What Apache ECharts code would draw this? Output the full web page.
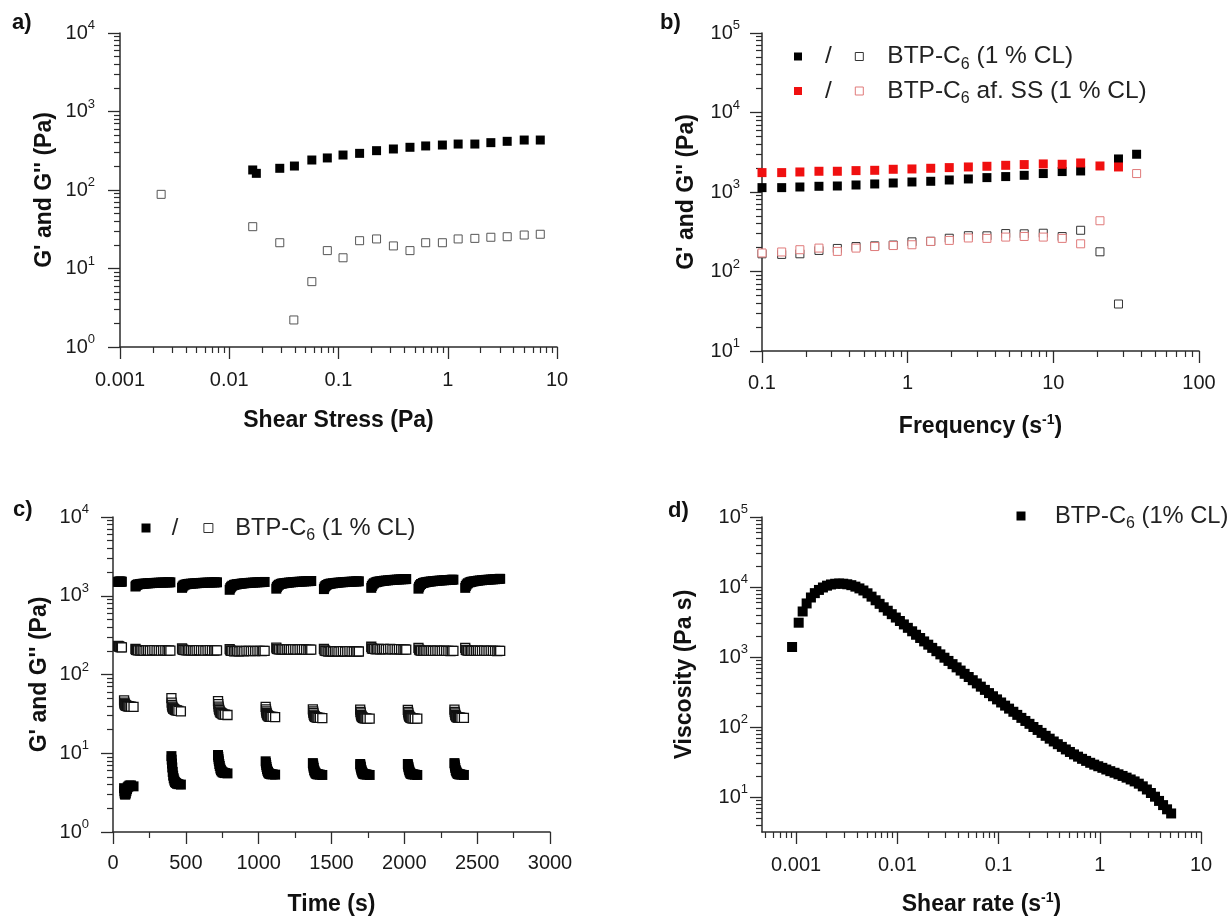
<!DOCTYPE html>
<html>
<head>
<meta charset="utf-8">
<script src="https://cdn.jsdelivr.net/npm/echarts@6/dist/echarts.min.js"></script>
<style>html,body{margin:0;padding:0;background:#fff}#c{width:1230px;height:921px}</style>
</head>
<body>
<div id="c"></div>
<script>
// ---------------- Panel a : amplitude sweep ----------------
const aStress = [0.0164, 0.0177, 0.029, 0.0395, 0.057, 0.079, 0.11, 0.156, 0.223, 0.318, 0.451, 0.628, 0.893, 1.245, 1.77, 2.48, 3.50, 5.01, 7.03];
const aGp = [180, 163, 189, 202, 241, 256, 279, 293, 317, 333, 350, 364, 374, 385, 385, 401, 417, 433, 433];
const aStressGpp = [0.00238, 0.0164, 0.029, 0.039, 0.057, 0.079, 0.11, 0.156, 0.223, 0.318, 0.451, 0.628, 0.893, 1.245, 1.77, 2.48, 3.50, 5.01, 7.03];
const aGpp = [88, 34.1, 21.3, 2.21, 6.8, 16.9, 13.7, 22.6, 23.8, 19.4, 16.9, 21.3, 21.3, 23.8, 24.2, 25.0, 25.4, 26.7, 27.3];
const aXTicks = [0.001, 0.01, 0.1, 1, 10];
const aXLabels = ['0.001', '0.01', '0.1', '1', '10'];
const aYTicks = [1, 10, 100, 1000, 10000];
const aYExp = ['0', '1', '2', '3', '4'];

// ---------------- Panel b : frequency sweep ----------------
const bFreq = [0.1, 0.1365, 0.182, 0.246, 0.329, 0.442, 0.594, 0.796, 1.07, 1.44, 1.93, 2.61, 3.50, 4.71, 6.31, 8.53, 11.5, 15.4, 20.9, 28.0, 37.3];
const bGpBlack = [1135, 1135, 1156, 1180, 1190, 1225, 1262, 1298, 1337, 1364, 1416, 1459, 1517, 1563, 1622, 1706, 1807, 1839, null, 2604, 2985];
const bGppBlack = [167, 164, 167, 184, 195, 206, 210, 215, 236, 240, 262, 282, 281, 300, 298, 303, 275, 330, 177, 39, null];
const bGpRed = [1754, 1754, 1786, 1823, 1823, 1858, 1875, 1931, 1949, 1988, 2027, 2065, 2107, 2167, 2213, 2255, 2233, 2318, 2125, 2065, null];
const bGppRed = [171, 176, 188, 197, 179, 197, 206, 212, 217, 239, 246, 264, 261, 271, 276, 271, 261, 223, 435, null, 1706];
const bXTicks = [0.1, 1, 10, 100];
const bXLabels = ['0.1', '1', '10', '100'];
const bYTicks = [10, 100, 1000, 10000, 100000];
const bYExp = ['1', '2', '3', '4', '5'];

// ---------------- Panel c : time sweep (recovery steps) ----------------
const cTime = [
  35, 40, 45, 50, 55, 61,
  76, 78, 80, 82, 85, 88, 92, 96, 101, 107, 114, 124, 141,
  154, 158, 164, 172, 184, 194, 204, 216, 229, 241, 254, 269, 284, 299, 314, 329, 344, 359, 374, 384, 394,
  401, 403, 405, 407, 410, 413, 417, 421, 426, 432, 439, 449, 466,
  474, 478, 484, 492, 504, 514, 524, 536, 549, 561, 574, 589, 604, 619, 634, 649, 664, 679, 694, 704, 714,
  721, 723, 725, 727, 730, 733, 737, 741, 746, 752, 759, 769, 786,
  801, 805, 811, 819, 831, 841, 851, 863, 876, 888, 901, 916, 931, 946, 961, 976, 991, 1006, 1021, 1031, 1041,
  1048, 1050, 1052, 1054, 1057, 1060, 1064, 1068, 1073, 1079, 1086, 1096, 1113,
  1121, 1125, 1131, 1139, 1151, 1161, 1171, 1183, 1196, 1208, 1221, 1236, 1251, 1266, 1281, 1296, 1311, 1326, 1341, 1351, 1361,
  1372, 1374, 1376, 1378, 1381, 1384, 1388, 1392, 1397, 1403, 1410, 1420, 1437,
  1448, 1452, 1458, 1466, 1478, 1488, 1498, 1510, 1523, 1535, 1548, 1563, 1578, 1593, 1608, 1623, 1638, 1653, 1668, 1678, 1688,
  1697, 1699, 1701, 1703, 1706, 1709, 1713, 1717, 1722, 1728, 1735, 1745, 1762,
  1773, 1777, 1783, 1791, 1803, 1813, 1823, 1835, 1848, 1860, 1873, 1888, 1903, 1918, 1933, 1948, 1963, 1978, 1993, 2003, 2013,
  2024, 2026, 2028, 2030, 2033, 2036, 2040, 2044, 2049, 2055, 2062, 2072, 2089,
  2097, 2101, 2107, 2115, 2127, 2137, 2147, 2159, 2172, 2184, 2197, 2212, 2227, 2242, 2257, 2272, 2287, 2302, 2317, 2327, 2337,
  2344, 2346, 2348, 2350, 2353, 2356, 2360, 2364, 2369, 2375, 2382, 2392, 2409,
  2418, 2422, 2428, 2436, 2448, 2458, 2468, 2480, 2493, 2505, 2518, 2533, 2548, 2563, 2578, 2593, 2608, 2623, 2638, 2648, 2658
];
const cGp = [
  1500, 1508, 1512, 1512, 1510, 1508,
  3.6, 3.3, 3.1, 3.0, 3.0, 3.1, 3.3, 3.5, 3.7, 3.8, 3.9, 3.9, 3.8,
  1310, 1345, 1375, 1395, 1405, 1413, 1420, 1426, 1432, 1438, 1443, 1449, 1455, 1460, 1465, 1469, 1472, 1475, 1478, 1480, 1482,
  9.2, 8.3, 7.4, 6.6, 5.8, 5.2, 4.8, 4.5, 4.3, 4.2, 4.1, 4.05, 4.0,
  1260, 1310, 1350, 1380, 1400, 1410, 1418, 1424, 1430, 1436, 1442, 1449, 1455, 1460, 1465, 1469, 1472, 1475, 1478, 1480, 1482,
  9.5, 9.0, 8.4, 7.9, 7.3, 6.9, 6.4, 6.1, 5.9, 5.75, 5.65, 5.6, 5.55,
  1190, 1250, 1300, 1340, 1375, 1389, 1400, 1410, 1420, 1430, 1440, 1448, 1455, 1462, 1468, 1474, 1480, 1485, 1490, 1494, 1497,
  7.9, 7.5, 7.1, 6.7, 6.3, 6.0, 5.8, 5.6, 5.5, 5.45, 5.4, 5.4, 5.35,
  1230, 1290, 1340, 1380, 1415, 1429, 1440, 1450, 1460, 1469, 1478, 1487, 1495, 1502, 1508, 1514, 1520, 1526, 1532, 1536, 1540,
  7.5, 7.2, 6.8, 6.5, 6.1, 5.9, 5.7, 5.55, 5.45, 5.4, 5.4, 5.35, 5.3,
  1215, 1280, 1330, 1370, 1405, 1419, 1430, 1440, 1450, 1459, 1468, 1477, 1485, 1492, 1498, 1504, 1510, 1515, 1520, 1523, 1526,
  7.3, 7.0, 6.7, 6.4, 6.1, 5.85, 5.65, 5.5, 5.45, 5.4, 5.4, 5.35, 5.3,
  1260, 1330, 1390, 1440, 1480, 1499, 1515, 1528, 1540, 1550, 1560, 1570, 1580, 1588, 1595, 1603, 1610, 1616, 1622, 1626, 1630,
  7.3, 7.0, 6.7, 6.4, 6.1, 5.85, 5.65, 5.5, 5.45, 5.4, 5.4, 5.35, 5.3,
  1230, 1300, 1360, 1410, 1450, 1469, 1485, 1498, 1510, 1520, 1530, 1540, 1550, 1558, 1565, 1573, 1580, 1586, 1592, 1596, 1600,
  7.5, 7.2, 6.8, 6.5, 6.1, 5.9, 5.7, 5.55, 5.45, 5.4, 5.4, 5.35, 5.3,
  1260, 1330, 1390, 1440, 1480, 1499, 1515, 1528, 1540, 1553, 1565, 1575, 1585, 1593, 1600, 1608, 1615, 1623, 1630, 1635, 1640
];
const cGpp = [
  230, 227, 225, 223, 222, 221,
  47, 44, 42.5, 41.5, 41, 40.5, 40, 40, 39.5, 39.5, 39, 39, 38.7,
  212, 206, 204, 203, 201, 203, 202, 200, 202, 203, 201, 203, 204, 202, 203, 201, 203, 202, 200, 202, 201,
  50, 44, 41, 39, 38, 37, 36.5, 36, 35.5, 35, 35, 34.5, 34,
  214, 207, 205, 204, 202, 203, 204, 202, 203, 201, 202, 204, 202, 203, 201, 203, 204, 202, 201, 202, 202,
  46, 42, 39, 37, 35.5, 34, 33, 32.5, 32, 31.5, 31, 31, 30.6,
  210, 203, 200, 199, 197, 198, 199, 197, 198, 199, 197, 199, 200, 198, 199, 198, 200, 199, 198, 199, 199,
  38.7, 36, 34, 32.5, 31.5, 30.5, 30, 29.5, 29.2, 29, 29, 28.9, 28.8,
  220, 212, 210, 209, 207, 208, 209, 207, 208, 209, 207, 208, 209, 207, 208, 209, 208, 207, 206, 207, 207,
  36, 34, 32.5, 31, 30, 29.5, 29, 28.7, 28.5, 28.3, 28.2, 28.1, 28.0,
  212, 202, 199, 198, 196, 197, 198, 196, 197, 198, 196, 197, 198, 196, 197, 198, 197, 196, 195, 196, 196,
  35.8, 33.5, 32, 30.5, 29.7, 29, 28.5, 28.2, 28, 27.8, 27.7, 27.6, 27.5,
  225, 215, 212, 211, 209, 210, 211, 209, 210, 211, 209, 210, 211, 209, 210, 209, 210, 208, 207, 208, 207,
  35.5, 33.5, 32, 30.5, 29.7, 29, 28.5, 28.2, 28, 27.8, 27.7, 27.6, 27.5,
  218, 207, 203, 201, 199, 200, 201, 199, 200, 201, 199, 200, 201, 199, 200, 201, 200, 199, 198, 199, 199,
  35.8, 33.5, 32, 30.7, 29.8, 29.2, 28.8, 28.5, 28.4, 28.3, 28.3, 28.2, 28.2,
  218, 206, 203, 201, 199, 200, 201, 199, 200, 201, 199, 200, 201, 199, 200, 201, 200, 199, 198, 199, 199
];
const cXTicks = [0, 500, 1000, 1500, 2000, 2500, 3000];
const cXLabels = ['0', '500', '1000', '1500', '2000', '2500', '3000'];
const cXMinor = [250, 750, 1250, 1750, 2250, 2750];
const cYTicks = [1, 10, 100, 1000, 10000];
const cYExp = ['0', '1', '2', '3', '4'];

// ---------------- Panel d : flow curve ----------------
const dRate = [
  0.000912, 0.00106, 0.00116, 0.00127, 0.00140, 0.00153, 0.00168, 0.00184, 0.00202, 0.00221,
  0.00243, 0.00266, 0.00292, 0.00320, 0.00351, 0.00385, 0.00422, 0.00462, 0.00507, 0.00556,
  0.00610, 0.00668, 0.00733, 0.00804, 0.00881, 0.00966, 0.0106, 0.0116, 0.0127, 0.0140,
  0.0153, 0.0168, 0.0184, 0.0202, 0.0221, 0.0243, 0.0266, 0.0292, 0.0320, 0.0351,
  0.0385, 0.0422, 0.0462, 0.0507, 0.0556, 0.0610, 0.0668, 0.0733, 0.0804, 0.0881,
  0.0966, 0.106, 0.116, 0.127, 0.140, 0.153, 0.168, 0.184, 0.202, 0.221,
  0.243, 0.266, 0.292, 0.320, 0.351, 0.385, 0.422, 0.462, 0.507, 0.556,
  0.610, 0.668, 0.733, 0.804, 0.881, 0.966, 1.06, 1.16, 1.27, 1.40,
  1.53, 1.68, 1.84, 2.02, 2.21, 2.43, 2.66, 2.92, 3.20, 3.51,
  3.85, 4.22, 4.62, 5.07
];
const dVisc = [
  1390, 3090, 4470, 5820, 7080, 8170, 9080, 9840, 10450, 10870,
  11120, 11220, 11140, 10940, 10620, 10120, 9550, 8910, 8130, 7280,
  6460, 5750, 5130, 4580, 4090, 3660, 3270, 2920, 2610, 2330,
  2080, 1870, 1670, 1500, 1350, 1210, 1090, 977, 879, 791,
  711, 640, 575, 518, 466, 419, 377, 339, 305, 275,
  248, 224, 202, 183, 165, 149, 135, 122, 111, 100,
  90.8, 82.4, 74.8, 68.1, 62.1, 56.8, 52.0, 47.8, 44.0, 40.6,
  37.7, 35.1, 32.8, 30.8, 29.0, 27.5, 26.1, 24.7, 23.4, 22.2,
  21.1, 20.0, 18.9, 17.8, 16.7, 15.5, 14.2, 12.8, 11.4, 10.1,
  8.79, 7.66, 6.67, 5.82
];
const dXTicks = [0.001, 0.01, 0.1, 1, 10];
const dXLabels = ['0.001', '0.01', '0.1', '1', '10'];
const dYTicks = [10, 100, 1000, 10000, 100000];
const dYExp = ['1', '2', '3', '4', '5'];

// ---------------- styling / helpers ----------------
const FONT = '"Liberation Sans", Arial, Helvetica, sans-serif';
const TXT = '#1a1a1a';
const AXC = '#2b2b2b';

function pairs(xs, ys) {
  const out = [];
  xs.forEach((x, i) => { if (ys[i] != null) out.push([x, ys[i]]); });
  return out;
}
function minorLog(min, max) {
  const out = [];
  for (let e = Math.floor(Math.log10(min)) - 1; e <= Math.ceil(Math.log10(max)); e++) {
    for (let m = 2; m <= 9; m++) {
      const v = +(m * Math.pow(10, e)).toPrecision(6);
      if (v >= min * 0.9999 && v <= max * 1.0001) out.push(v);
    }
  }
  return out;
}
const labelRich = {
  b: {fontSize: 20, fontFamily: FONT, color: TXT, lineHeight: 28},
  s: {fontSize: 13, fontFamily: FONT, color: TXT, lineHeight: 13, verticalAlign: 'top'}
};
const nameRich = {
  t: {fontSize: 23, fontWeight: 'bold', fontFamily: FONT, color: '#111', lineHeight: 28},
  s: {fontSize: 14, fontWeight: 'bold', fontFamily: FONT, color: '#111', lineHeight: 14, verticalAlign: 'top'}
};

const xAxes = [], yAxes = [];
function makeAxes(dim, g, o) {
  const list = dim === 'x' ? xAxes : yAxes;
  const pos = dim === 'x' ? 'bottom' : 'left';
  const fmt = function (v) {
    const i = o.ticks.findIndex(t => Math.abs(t - v) <= Math.abs(t) * 1e-6 + 1e-9);
    if (i < 0) return '';
    return o.sup ? '{b|10}{s|' + o.labels[i] + '}' : o.labels[i];
  };
  const idx = list.length;
  list.push({
    type: o.type, gridIndex: g, position: pos, min: o.min, max: o.max,
    axisLine: {show: true, onZero: false, lineStyle: {color: AXC, width: 1.5}},
    axisTick: {show: true, inside: false, length: 12, customValues: o.ticks, lineStyle: {color: AXC, width: 1.3}},
    axisLabel: {show: true, margin: o.margin, customValues: o.ticks, formatter: fmt,
                fontSize: 20, fontFamily: FONT, color: TXT, rich: labelRich},
    splitLine: {show: false},
    name: o.name, nameLocation: 'middle', nameGap: o.nameGap,
    nameTextStyle: {fontSize: 23, fontWeight: 'bold', fontFamily: FONT, color: '#111', rich: nameRich}
  });
  list.push({
    type: o.type, gridIndex: g, position: pos, min: o.min, max: o.max,
    axisLine: {show: false}, axisLabel: {show: false}, splitLine: {show: false},
    axisTick: {show: true, inside: false, length: 6, customValues: o.minor, lineStyle: {color: AXC, width: 1.2}}
  });
  return idx;
}

const grids = [
  {left: 120, top: 33, width: 437, height: 314},
  {left: 762, top: 33, width: 437, height: 318},
  {left: 113, top: 517, width: 437, height: 315},
  {left: 762, top: 517, width: 439, height: 315}
];

const ax = makeAxes('x', 0, {type: 'log', min: 0.001, max: 10, ticks: aXTicks, labels: aXLabels, minor: minorLog(0.001, 10),
  margin: 23, name: '{t|Shear Stress (Pa)}', nameGap: 60});
const ay = makeAxes('y', 0, {type: 'log', min: 1, max: 10000, ticks: aYTicks, labels: aYExp, sup: true, minor: minorLog(1, 10000),
  margin: 25, name: "{t|G' and G'' (Pa)}", nameGap: 61});
const bx = makeAxes('x', 1, {type: 'log', min: 0.1, max: 100, ticks: bXTicks, labels: bXLabels, minor: minorLog(0.1, 100),
  margin: 22, name: '{t|Frequency (s}{s|-1}{t|)}', nameGap: 62});
const by = makeAxes('y', 1, {type: 'log', min: 10, max: 100000, ticks: bYTicks, labels: bYExp, sup: true, minor: minorLog(10, 100000),
  margin: 22, name: "{t|G' and G'' (Pa)}", nameGap: 61});
const cx = makeAxes('x', 2, {type: 'value', min: 0, max: 3000, ticks: cXTicks, labels: cXLabels, minor: cXMinor,
  margin: 21, name: '{t|Time (s)}', nameGap: 59});
const cy = makeAxes('y', 2, {type: 'log', min: 1, max: 10000, ticks: cYTicks, labels: cYExp, sup: true, minor: minorLog(1, 10000),
  margin: 24, name: "{t|G' and G'' (Pa)}", nameGap: 59});
const dx = makeAxes('x', 3, {type: 'log', min: 0.00046, max: 10, ticks: dXTicks, labels: dXLabels, minor: minorLog(0.00046, 10),
  margin: 23, name: '{t|Shear rate (s}{s|-1}{t|)}', nameGap: 59});
const dy = makeAxes('y', 3, {type: 'log', min: 3.1623, max: 100000, ticks: dYTicks, labels: dYExp, sup: true, minor: minorLog(3.1623, 100000),
  margin: 14, name: '{t|Viscosity (Pa s)}', nameGap: 63});

function filled(name, xi, yi, data, color, size) {
  return {name, type: 'scatter', xAxisIndex: xi, yAxisIndex: yi, data, symbol: 'rect', symbolSize: size,
          itemStyle: {color, borderColor: color, borderWidth: 0, opacity: 1}, emphasis: {disabled: true}};
}
function open(name, xi, yi, data, color, size, bw) {
  return {name, type: 'scatter', xAxisIndex: xi, yAxisIndex: yi, data, symbol: 'rect', symbolSize: size,
          itemStyle: {color: '#fff', borderColor: color, borderWidth: bw || 1, opacity: 1}, emphasis: {disabled: true}};
}

const RED = '#f01010';
const PINK = '#e07a7a';

const series = [
  filled('aGp', ax, ay, pairs(aStress, aGp), '#000', 9),
  open('aGpp', ax, ay, pairs(aStressGpp, aGpp), '#555', 8),
  filled('bGpBlack', bx, by, pairs(bFreq, bGpBlack), '#000', 9),
  filled('bGpRed', bx, by, pairs(bFreq, bGpRed), RED, 9),
  open('bGppBlack', bx, by, pairs(bFreq, bGppBlack), '#333', 8),
  open('bGppRed', bx, by, pairs(bFreq, bGppRed), PINK, 8),
  filled('cGp', cx, cy, pairs(cTime, cGp), '#000', 10),
  open('cGpp', cx, cy, pairs(cTime, cGpp), '#111', 9, 1.3),
  filled('dVisc', dx, dy, pairs(dRate, dVisc), '#000', 10)
];

function legRich(fs, pSlash, pText) {
  const base = {fontSize: fs, fontFamily: FONT, color: '#222', lineHeight: 32};
  return {
    sl: Object.assign({}, base, {padding: [0, 0, 0, pSlash]}),
    t0: Object.assign({}, base, {padding: [0, 0, 0, pText]}),
    t: base,
    sub: {fontSize: Math.round(fs * 0.66), fontFamily: FONT, color: '#222', lineHeight: 15, verticalAlign: 'bottom'}
  };
}
function legend2(left, top, filledName, openName, fillColor, openColor, size, gap, fs, pSlash, pText, label) {
  return {
    left, top, padding: 0, orient: 'horizontal', selectedMode: false,
    itemWidth: size, itemHeight: size, itemGap: gap,
    data: [
      {name: filledName, icon: 'rect', itemStyle: {color: fillColor, borderWidth: 0}},
      {name: openName, icon: 'rect', itemStyle: {color: '#fff', borderColor: openColor, borderWidth: 1}}
    ],
    formatter: function (n) { return n === filledName ? '{sl|/}' : label; },
    textStyle: {rich: legRich(fs, pSlash, pText)}
  };
}

const titleStyle = {fontSize: 22, fontWeight: 'bold', fontFamily: FONT, color: '#111'};

const option = {
  animation: false,
  backgroundColor: '#fff',
  title: [
    {text: 'a)', left: 12, top: 12, padding: 0, textStyle: titleStyle},
    {text: 'b)', left: 660, top: 12, padding: 0, textStyle: titleStyle},
    {text: 'c)', left: 13, top: 499, padding: 0, textStyle: titleStyle},
    {text: 'd)', left: 668, top: 500, padding: 0, textStyle: titleStyle}
  ],
  grid: grids,
  xAxis: xAxes,
  yAxis: yAxes,
  legend: [
    legend2(794, 44, 'bGpBlack', 'bGppBlack', '#000', '#333', 8, 23, 24.5, 18, 19,
            '{t0|BTP-C}{sub|6}{t| (1 % CL)}'),
    legend2(794, 78.5, 'bGpRed', 'bGppRed', RED, PINK, 8, 23, 24.5, 18, 19,
            '{t0|BTP-C}{sub|6}{t| af. SS (1 % CL)}'),
    legend2(141.5, 516, 'cGp', 'cGpp', '#000', '#333', 9, 25, 23.7, 16.3, 17.4,
            '{t0|BTP-C}{sub|6}{t| (1 % CL)}'),
    {
      left: 1016.5, top: 504, padding: 0, selectedMode: false, itemWidth: 9, itemHeight: 9,
      data: [{name: 'dVisc', icon: 'rect', itemStyle: {color: '#000', borderWidth: 0}}],
      formatter: function () { return '{t0|BTP-C}{sub|6}{t| (1% CL)}'; },
      textStyle: {rich: legRich(23.7, 0, 24.5)}
    }
  ],
  series
};

const chart = echarts.init(document.getElementById('c'), null, {renderer: 'canvas', width: 1230, height: 921});
chart.setOption(option);
</script>
</body>
</html>
